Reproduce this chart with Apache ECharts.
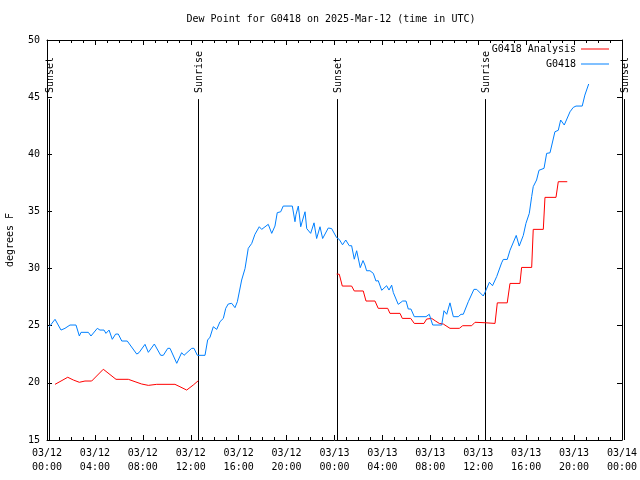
<!DOCTYPE html>
<html>
<head>
<meta charset="utf-8">
<script src="https://cdn.jsdelivr.net/npm/echarts@6/dist/echarts.min.js"></script>
<style>html,body{margin:0;padding:0;background:#fff;}#c{width:640px;height:480px;}</style>
</head>
<body>
<div id="c"></div>
<script>
// ---- data (hours since 2025-03-12 00:00 UTC) ----
const titleText = 'Dew Point for G0418 on 2025-Mar-12 (time in UTC)';
const yName = 'degrees F';
const seriesNames = ['G0418 Analysis', 'G0418'];
const xTickLabels = ['03/12\n00:00','03/12\n04:00','03/12\n08:00','03/12\n12:00','03/12\n16:00','03/12\n20:00',
  '03/13\n00:00','03/13\n04:00','03/13\n08:00','03/13\n12:00','03/13\n16:00','03/13\n20:00','03/14\n00:00'];

const obsHours = [0.19,0.31,0.67,1.17,1.5,1.92,2.42,2.7,2.84,3.45,3.67,4.2,4.42,4.76,4.92,5.18,5.45,5.73,5.95,6.24,6.7,
  7.49,7.68,8.18,8.46,8.96,9.49,9.71,10.08,10.27,10.83,10.96,11.24,11.44,12.08,12.27,12.55,13.19,13.41,13.61,13.88,14.17,
  14.44,14.72,14.92,15.13,15.42,15.69,15.89,16.25,16.53,16.8,17.09,17.36,17.72,17.92,18.47,18.76,19.03,19.22,19.51,19.72,
  20.48,20.7,20.78,20.98,21.18,21.34,21.54,21.68,21.81,22.01,22.29,22.51,22.79,23.01,23.48,23.76,24.18,24.4,24.67,24.94,
  25.23,25.43,25.65,25.85,26.15,26.38,26.54,26.68,26.96,27.24,27.46,27.65,27.94,28.35,28.55,28.77,28.91,29.32,29.69,29.97,
  30.16,30.38,30.66,31.64,31.91,32.2,32.95,33.14,33.37,33.64,33.92,34.33,34.56,34.75,35.17,35.64,35.87,36.42,36.6,36.93,
  37.19,37.54,37.95,38.09,38.42,38.65,39.17,39.42,39.76,39.98,40.26,40.46,40.59,40.87,41.07,41.49,41.71,41.99,42.4,42.68,
  42.88,43.18,43.66,43.93,44.16,44.68,44.9,45.22];
const obsValues = [24.91,24.91,25.56,24.62,24.77,25.06,25.06,24.10,24.42,24.42,24.10,24.77,24.62,24.62,24.33,24.62,23.81,24.27,24.27,23.66,23.66,
  22.52,22.64,23.37,22.67,23.40,22.41,22.41,23.02,23.02,21.71,21.71,22.64,22.41,23.02,23.02,22.41,22.41,23.75,24.0,24.91,24.68,
  25.35,25.64,26.52,26.9,26.96,26.58,27.1,29.0,30.0,31.77,32.2,33.0,33.66,33.43,33.87,33.08,33.72,34.89,34.97,35.47,
  35.47,34.1,34.7,35.47,33.66,34.25,34.97,33.5,33.5,33.08,34.0,32.63,33.66,32.63,33.55,33.5,32.7,32.55,32.08,32.5,
  32.0,32.0,30.82,31.56,30.08,30.7,30.31,29.81,29.81,29.58,28.91,28.94,28.1,28.5,28.12,28.55,27.9,26.87,27.16,27.16,
  26.46,26.46,25.79,25.79,26.0,25.06,25.06,26.31,26.0,27.0,25.79,25.79,26.0,26.0,27.1,28.18,28.18,27.6,28.0,28.8,
  28.5,29.3,30.5,30.8,30.8,31.6,32.9,31.97,32.9,33.95,34.83,36.3,37.17,37.75,38.6,38.77,40.08,40.13,41.97,42.1,
  43.0,42.56,43.72,44.1,44.22,44.22,45.18,46.15];

const anaHours = [0.67,1.17,1.73,2.2,2.7,3.17,3.73,4.7,5.76,6.79,7.35,7.9,8.46,9.16,10.68,11.1,11.66,12.21,12.63,
  18.0,
  24.18,24.4,24.65,25.43,25.65,26.4,26.63,27.38,27.65,28.44,28.63,29.47,29.66,30.36,30.66,31.47,31.69,32.11,32.45,32.75,
  33.08,33.64,34.42,34.7,35.45,35.73,36.56,37.4,37.59,38.42,38.65,39.48,39.62,40.46,40.59,41.43,41.57,42.49,42.68,43.43];
const anaValues = [19.87,20.16,20.49,20.25,20.05,20.16,20.16,21.19,20.31,20.31,20.1,19.9,19.78,19.87,19.87,19.66,19.37,19.81,20.19,
  null,
  29.52,29.5,28.47,28.47,28.04,28.04,27.16,27.16,26.52,26.52,26.08,26.08,25.64,25.64,25.2,25.2,25.58,25.64,25.4,25.2,
  25.15,24.77,24.77,25.0,25.0,25.3,25.26,25.2,27.0,27.0,28.7,28.7,30.1,30.1,33.43,33.43,36.23,36.23,37.6,37.6];

const sunHours = [0.17, 12.6, 24.18, 36.55, 48.2];
const sunLabels = ['Sunset', 'Sunrise', 'Sunset', 'Sunrise', 'Sunset'];

// ---- chart ----
const FONT = 'DejaVu Sans Mono';
const chart = echarts.init(document.getElementById('c'), null, {renderer: 'canvas'});
const pair = (xs, ys) => xs.map((x, i) => [x, ys[i]]);

const xCommon = {
  type: 'value', min: 0, max: 48, interval: 4,
  axisLine: {show: true, lineStyle: {color: '#000', width: 1}},
  axisTick: {show: true, inside: true, length: 5, lineStyle: {color: '#000'}},
  minorTick: {show: true, splitNumber: 4, length: 3, lineStyle: {color: '#000'}},
  splitLine: {show: false}, minorSplitLine: {show: false}
};
const yCommon = {
  type: 'value', min: 15, max: 50, interval: 5,
  axisLine: {show: true, onZero: false, lineStyle: {color: '#000', width: 1}},
  axisTick: {show: true, inside: true, length: 5, lineStyle: {color: '#000'}},
  splitLine: {show: false}
};

chart.setOption({
  animation: false,
  backgroundColor: '#fff',
  textStyle: {fontFamily: FONT},
  grid: {left: 47, right: 18, top: 40, bottom: 40, containLabel: false, outerBoundsMode: 'none'},
  graphic: [{
    type: 'text', x: 331, y: 19,
    style: {text: titleText, align: 'center', verticalAlign: 'middle', font: '10px ' + FONT, fill: '#000'}
  }],
  legend: [
    {data: [seriesNames[0]], right: 31, top: 44, padding: 0, align: 'right', icon: 'rect', itemWidth: 28, itemHeight: 1,
     textStyle: {fontFamily: FONT, fontSize: 10, color: '#000'}},
    {data: [seriesNames[1]], right: 31, top: 59, padding: 0, align: 'right', icon: 'rect', itemWidth: 28, itemHeight: 1,
     textStyle: {fontFamily: FONT, fontSize: 10, color: '#000'}}
  ],
  xAxis: [
    Object.assign({}, xCommon, {
      position: 'bottom',
      axisLabel: {show: true, margin: 6, color: '#000', fontFamily: FONT, fontSize: 10, lineHeight: 14,
        formatter: v => xTickLabels[Math.round(v / 4)]}
    }),
    Object.assign({}, xCommon, {position: 'top', axisLabel: {show: false}})
  ],
  yAxis: [
    Object.assign({}, yCommon, {
      position: 'left',
      name: yName, nameLocation: 'middle', nameGap: 32, nameRotate: 90,
      nameTextStyle: {color: '#000', fontFamily: FONT, fontSize: 10},
      axisLabel: {show: true, margin: 7, color: '#000', fontFamily: FONT, fontSize: 10}
    }),
    Object.assign({}, yCommon, {position: 'right', axisLabel: {show: false}})
  ],
  series: [
    {
      name: seriesNames[0], type: 'line', xAxisIndex: 0, yAxisIndex: 0,
      data: pair(anaHours, anaValues), showSymbol: false, symbol: 'none', connectNulls: false,
      color: '#ff0000', lineStyle: {color: '#ff0000', width: 1}, z: 3
    },
    {
      name: seriesNames[1], type: 'line', xAxisIndex: 0, yAxisIndex: 0,
      data: pair(obsHours, obsValues), showSymbol: false, symbol: 'none',
      color: '#0080ff', lineStyle: {color: '#0080ff', width: 1}, z: 3
    },
    {
      name: 'sun', type: 'custom', xAxisIndex: 0, yAxisIndex: 0, clip: false, silent: true, z: 2,
      data: sunHours.map(h => [h, 15]),
      renderItem: function (params, api) {
        const h = api.value(0);
        const top = api.coord([h, 44.83]);
        const bot = api.coord([h, 15]);
        const x = Math.round(top[0]) + 0.5;
        return {
          type: 'group',
          children: [
            {type: 'line', shape: {x1: x, y1: top[1], x2: x, y2: bot[1]}, style: {stroke: '#000', lineWidth: 1}},
            {type: 'text', x: x + 1, y: top[1] - 6, rotation: Math.PI / 2,
             style: {text: sunLabels[params.dataIndex], align: 'left', verticalAlign: 'middle',
                     font: '10px ' + FONT, fill: '#000'}}
          ]
        };
      }
    }
  ]
});
</script>
</body>
</html>
